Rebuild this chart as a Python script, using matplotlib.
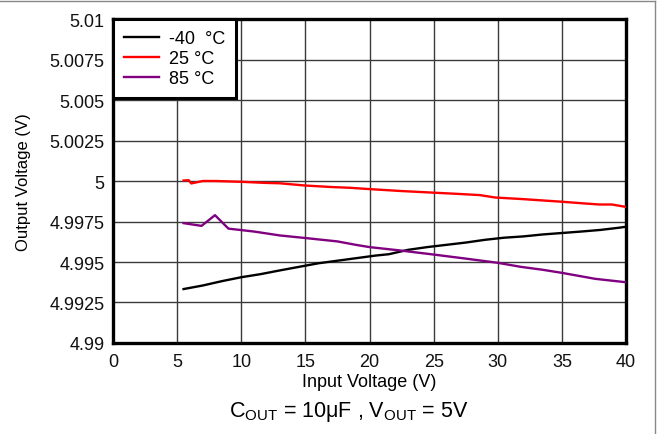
import matplotlib
matplotlib.use("Agg")
import matplotlib.pyplot as plt
from matplotlib.lines import Line2D

plt.rcParams["font.family"] = ["Liberation Sans", "DejaVu Sans"]
plt.rcParams["mathtext.fontset"] = "custom"
plt.rcParams["mathtext.rm"] = "Liberation Sans"
plt.rcParams["mathtext.it"] = "Liberation Sans:italic"

# Output voltage vs input voltage at three temperatures
vin_m40 = [5.5, 7, 8.5, 10, 11.5, 13, 14.5, 16, 17.5, 19, 20.5, 21.5, 23, 24.5,
           26, 27.5, 29, 30.5, 32, 33.5, 35, 36.5, 38, 39.5, 40]
vout_m40 = [4.99333, 4.99355, 4.99382, 4.99406, 4.99425, 4.99448, 4.99470,
            4.99492, 4.99508, 4.99524, 4.99540, 4.99548, 4.99575, 4.99592,
            4.99606, 4.99620, 4.99637, 4.99650, 4.99658, 4.99670, 4.99679,
            4.99688, 4.99698, 4.99712, 4.99718]

vin_25 = [5.5, 5.9, 6.1, 7, 8, 10, 12, 13, 15, 17, 18.5, 20, 22.5, 25, 27,
          28.6, 29.8, 31.8, 33.5, 35, 36.5, 37.9, 38.9, 40]
vout_25 = [5.00003, 5.00005, 4.99985, 5.0, 5.0, 4.99995, 4.99988, 4.99986,
           4.99972, 4.99963, 4.99958, 4.99950, 4.99938, 4.99928, 4.99920,
           4.99913, 4.99898, 4.99889, 4.99880, 4.99872, 4.99863, 4.99855,
           4.99855, 4.99840]

vin_85 = [5.5, 6.9, 7.95, 9, 11, 13, 15, 17.5, 19, 20, 22.4, 25, 27.6, 30,
          31.8, 33.5, 35, 37.6, 40]
vout_85 = [4.99740, 4.99723, 4.99789, 4.99706, 4.99688, 4.99664, 4.99648,
           4.99627, 4.99605, 4.99592, 4.99571, 4.99546, 4.99520, 4.99495,
           4.99470, 4.99452, 4.99433, 4.99396, 4.99375]

series_labels = ["-40  °C", "25 °C", "85 °C"]
series_colors = ["#000000", "#ff0000", "#800080"]

x_ticks = [0, 5, 10, 15, 20, 25, 30, 35, 40]
y_ticks = [4.99, 4.9925, 4.995, 4.9975, 5.0, 5.0025, 5.005, 5.0075, 5.01]
y_tick_labels = ["4.99", "4.9925", "4.995", "4.9975", "5", "5.0025", "5.005",
                 "5.0075", "5.01"]

fig = plt.figure(figsize=(6.59, 4.35), dpi=100)
ax = fig.add_axes([0.1715, 0.2092, 0.7785, 0.7448])

for xs, ys, lab, col in zip([vin_m40, vin_25, vin_85],
                            [vout_m40, vout_25, vout_85],
                            series_labels, series_colors):
    ax.plot(xs, ys, color=col, lw=1.7, label=lab, zorder=3)

ax.set_xlim(0, 40)
ax.set_ylim(4.99, 5.01)
ax.set_xticks(x_ticks)
ax.set_yticks(y_ticks)
ax.set_yticklabels(y_tick_labels)
ax.tick_params(axis="both", length=0, labelsize=13, colors="#111111")
ax.tick_params(axis="x", pad=7)
ax.tick_params(axis="y", pad=6)
ax.grid(True, color="#3a3a3a", lw=1.0)
ax.set_axisbelow(True)
for sp in ax.spines.values():
    sp.set_linewidth(2.4)
    sp.set_color("black")

ax.set_xlabel("Input Voltage (V)", fontsize=13)
ax.xaxis.set_label_coords(0.5, -0.094)
ax.set_ylabel("Output Voltage (V)", fontsize=12)
ax.yaxis.set_label_coords(-0.16, 0.5)

leg = ax.legend(loc="upper left", frameon=True, fancybox=False,
                borderaxespad=0, fontsize=13, handlelength=1.95,
                handletextpad=0.55, labelspacing=0.17, borderpad=0.6)
leg.get_frame().set_edgecolor("black")
leg.get_frame().set_linewidth(2.2)
leg.get_frame().set_alpha(1)
leg.set_zorder(5)

fig.text(0.53, 0.053, r"C$_{\mathrm{OUT}}$ = 10μF , V$_{\mathrm{OUT}}$ = 5V",
         ha="center", va="center", fontsize=15.5)

# thin grey frame along the top and right edges
fig.add_artist(Line2D([0, 0.994], [0.995, 0.995], transform=fig.transFigure,
                      color="#888888", lw=1))
fig.add_artist(Line2D([0.994, 0.994], [0.0, 0.995], transform=fig.transFigure,
                      color="#888888", lw=1))

fig.savefig("out.png", dpi=100)
